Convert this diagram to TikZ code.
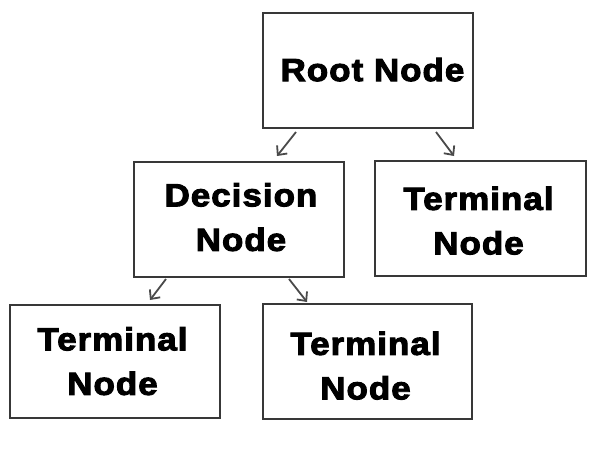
\documentclass[tikz,border=0pt]{standalone}
\usepackage{fontspec}
\setmainfont{Liberation Sans}
\newfontfamily\heavyfont[FakeBold=3,LetterSpace=3]{Liberation Sans Bold}
\usetikzlibrary{arrows.meta}
\definecolor{boxline}{HTML}{383838}
\definecolor{arrline}{HTML}{4A4A4A}
\newcommand\stretchtxt[1]{\scalebox{1.09}[1]{#1}}
\begin{document}
\begin{tikzpicture}[x=1pt,y=-1pt,
  box/.style={draw=boxline,line width=2pt,rectangle,inner sep=0pt,outer sep=0pt,fill=white},
  lbl/.style={font=\heavyfont\fontsize{32}{44.5}\selectfont,align=center,inner sep=0pt,text depth=0pt},
  arr/.style={draw=arrline,line width=1.8pt,-{Straight Barb[length=7pt,width=13pt]}}]
\fill[white] (0,0) rectangle (609,450);
\useasboundingbox (0,0) rectangle (609,450);
\node[box,minimum width=210pt,minimum height=115pt] (root) at (368,70.5) {};
\node[box,minimum width=210pt,minimum height=115pt] (dec) at (239,219.5) {};
\node[box,minimum width=211pt,minimum height=115pt] (termR) at (480.5,218.5) {};
\node[box,minimum width=210pt,minimum height=113pt] (termBL) at (115,361.5) {};
\node[box,minimum width=209pt,minimum height=115pt] (termBM) at (367.5,361.5) {};
\node[lbl] (rootT) at (372.5,69.5) {\stretchtxt{Root Node}};
\node[lbl] (decT) at (241,217) {\stretchtxt{Decision}\\\stretchtxt{Node}};
\node[lbl] (termRT) at (478.5,220.5) {\stretchtxt{Terminal}\\\stretchtxt{Node}};
\node[lbl] (termBLT) at (112.5,361) {\stretchtxt{Terminal}\\\stretchtxt{Node}};
\node[lbl] (termBMT) at (365.5,365.5) {\stretchtxt{Terminal}\\\stretchtxt{Node}};
\draw[arr] ([xshift=33pt,yshift=-4pt]root.south west) -- ([xshift=143pt,yshift=6pt]dec.north west);
\draw[arr] ([xshift=-37pt,yshift=-4pt]root.south east) -- ([xshift=79pt,yshift=5pt]termR.north west);
\draw[arr] ([xshift=32pt,yshift=-2pt]dec.south west) -- ([xshift=-70pt,yshift=5pt]termBL.north east);
\draw[arr] ([xshift=-55pt,yshift=-2pt]dec.south east) -- ([xshift=44pt,yshift=2pt]termBM.north west);
\end{tikzpicture}
\end{document}
